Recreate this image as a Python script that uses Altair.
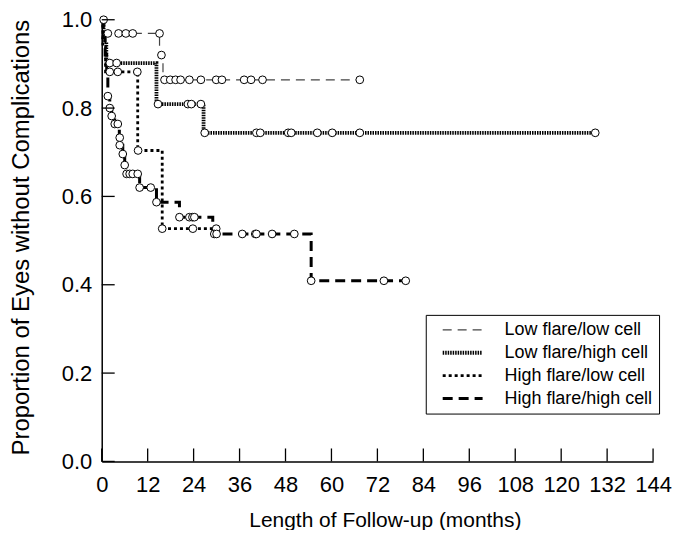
import altair as alt
import pandas as pd

FONT = "Liberation Sans"

series_names = ["Low flare/low cell", "Low flare/high cell",
                "High flare/low cell", "High flare/high cell"]

# Kaplan-Meier step curves (time in months, proportion after the step)
ll_step_t = [0, 0.8, 15.1, 16.0, 67.4]
ll_step_s = [1.0, 0.969, 0.92, 0.864, 0.864]
ll_cens_t = [0.5, 1.6, 4.4, 6.3, 8.1, 15.1, 15.6, 16.4, 17.9, 19.3, 20.6, 22.9,
             25.9, 29.9, 31.4, 37.2, 39.0, 42.0, 67.4]
ll_cens_s = [1.0, 0.969, 0.969, 0.969, 0.969, 0.969, 0.92, 0.864, 0.864, 0.864,
             0.864, 0.864, 0.864, 0.864, 0.864, 0.864, 0.864, 0.864, 0.864]

lh_step_t = [0, 0.5, 1.2, 14.3, 26.6, 128.9]
lh_step_s = [1.0, 0.95, 0.902, 0.809, 0.744, 0.744]
lh_cens_t = [2.1, 3.9, 14.7, 22.5, 23.4, 25.9, 26.9, 40.4, 41.4, 48.7, 49.5,
             56.3, 60.2, 67.4, 128.9]
lh_cens_s = [0.902, 0.902, 0.809, 0.809, 0.809, 0.809, 0.744, 0.744, 0.744,
             0.744, 0.744, 0.744, 0.744, 0.744, 0.744]

hl_step_t = [0, 0.3, 1.0, 9.4, 15.8, 29.9]
hl_step_s = [1.0, 0.94, 0.882, 0.704, 0.527, 0.527]
hl_cens_t = [2.1, 4.2, 9.3, 9.5, 15.8, 23.8, 29.9]
hl_cens_s = [0.882, 0.882, 0.882, 0.704, 0.527, 0.527, 0.527]

hh_step_t = [0, 0.4, 0.9, 1.3, 1.6, 2.1, 2.6, 3.4, 4.6, 4.7, 5.5, 6.0, 6.5,
             9.9, 14.3, 20.3, 29.0, 54.7, 79.4]
hh_step_s = [1.0, 0.96, 0.92, 0.88, 0.827, 0.80, 0.782, 0.764, 0.733, 0.716,
             0.696, 0.671, 0.651, 0.62, 0.587, 0.553, 0.515, 0.409, 0.409]
hh_cens_t = [1.6, 2.1, 2.6, 3.4, 4.2, 4.7, 4.7, 5.5, 6.0, 6.5, 7.3, 8.1, 9.4,
             9.9, 12.8, 14.3, 20.3, 22.9, 23.7, 24.2, 29.4, 30.0, 36.7, 40.1,
             40.4, 44.5, 50.3, 54.7, 73.7, 79.4]
hh_cens_s = [0.827, 0.80, 0.782, 0.764, 0.764, 0.733, 0.716, 0.696, 0.671,
             0.651, 0.651, 0.651, 0.651, 0.62, 0.62, 0.587, 0.553, 0.553, 0.553,
             0.553, 0.515, 0.515, 0.515, 0.515, 0.515, 0.515, 0.515, 0.409,
             0.409, 0.409]

x_ticks = [0, 12, 24, 36, 48, 60, 72, 84, 96, 108, 120, 132, 144]
y_ticks = [0.0, 0.2, 0.4, 0.6, 0.8, 1.0]

steps = [(ll_step_t, ll_step_s), (lh_step_t, lh_step_s),
         (hl_step_t, hl_step_s), (hh_step_t, hh_step_s)]
cens = [(ll_cens_t, ll_cens_s), (lh_cens_t, lh_cens_s),
        (hl_cens_t, hl_cens_s), (hh_cens_t, hh_cens_s)]

line_rows = []
for name, (ts, ss) in zip(series_names, steps):
    for t, s in zip(ts, ss):
        line_rows.append({"series": name, "t": t, "s": s})
df_lines = pd.DataFrame(line_rows)

pt_rows = []
for name, (ts, ss) in zip(series_names, cens):
    for t, s in zip(ts, ss):
        pt_rows.append({"series": name, "t": t, "s": s})
df_pts = pd.DataFrame(pt_rows)

x_scale = alt.Scale(domain=[0, 144], nice=False, zero=False)
y_scale = alt.Scale(domain=[0, 1], nice=False)

x_axis = alt.Axis(values=x_ticks, title="Length of Follow-up (months)", ticks=False,
                  grid=False, domainColor="black", domainWidth=1.5,
                  labelFont=FONT, labelFontSize=22, labelColor="black",
                  labelPadding=13, labelOverlap=False, labelFlush=False,
                  titleFont=FONT, titleFontSize=21, titleFontWeight="normal",
                  titleColor="black", titleX=284, titleY=59, titleBaseline="middle")
y_axis = alt.Axis(values=y_ticks, format=".1f",
                  title="Proportion of Eyes without Complications", ticks=False,
                  grid=False, domainColor="black", domainWidth=1.5,
                  labelFont=FONT, labelFontSize=22, labelColor="black",
                  labelPadding=10, labelOverlap=False, labelFlush=False,
                  titleFont=FONT, titleFontSize=24, titleFontWeight="normal",
                  titleColor="black", titleAngle=270, titleX=-80, titleY=218,
                  titleAlign="center", titleBaseline="middle")

leg = alt.Legend(title=None, orient="none", legendX=325, legendY=296,
                 symbolType="M-1,0H7", symbolSize=100, symbolOffset=7,
                 symbolFillColor="transparent",
                 labelFont=FONT, labelFontSize=18, labelColor="black",
                 labelOffset=48, labelLimit=400, padding=6, rowPadding=5,
                 strokeColor="black", fillColor="white")

lines = alt.Chart(df_lines).mark_line(interpolate="step-after").encode(
    x=alt.X("t:Q", scale=x_scale, axis=x_axis),
    y=alt.Y("s:Q", scale=y_scale, axis=y_axis),
    color=alt.Color("series:N", scale=alt.Scale(domain=series_names,
                    range=["#444444", "black", "black", "black"]), legend=leg),
    strokeDash=alt.StrokeDash("series:N", scale=alt.Scale(domain=series_names,
                    range=[[9, 6], [1.5, 1], [3, 3], [10, 6]]), legend=leg),
    strokeWidth=alt.StrokeWidth("series:N", scale=alt.Scale(type="ordinal",
                    domain=series_names, range=[1.2, 3.8, 2.8, 3.0]), legend=leg),
)

points = alt.Chart(df_pts).mark_point(shape="circle", filled=True, fill="white",
                                      stroke="black", strokeWidth=1, size=60,
                                      opacity=1).encode(
    x=alt.X("t:Q", scale=x_scale, axis=x_axis),
    y=alt.Y("s:Q", scale=y_scale, axis=y_axis),
)

xt = alt.Chart(pd.DataFrame({"t": x_ticks})).mark_rule(color="black", strokeWidth=1.3).encode(
    x=alt.X("t:Q", scale=x_scale, axis=x_axis),
    y=alt.value(443), y2=alt.value(430),
)
yt = alt.Chart(pd.DataFrame({"s": y_ticks})).mark_rule(color="black", strokeWidth=1.3).encode(
    y=alt.Y("s:Q", scale=y_scale, axis=y_axis),
    x=alt.value(0), x2=alt.value(13),
)

chart = alt.layer(lines, points, xt, yt).properties(
    width=553, height=443,
    padding={"left": 94, "top": 11, "right": 25, "bottom": 68},
    autosize=alt.AutoSizeParams(type="none"),
).configure_view(stroke=None)

chart.save("out.html", embed_options={"renderer": "svg", "actions": False})
